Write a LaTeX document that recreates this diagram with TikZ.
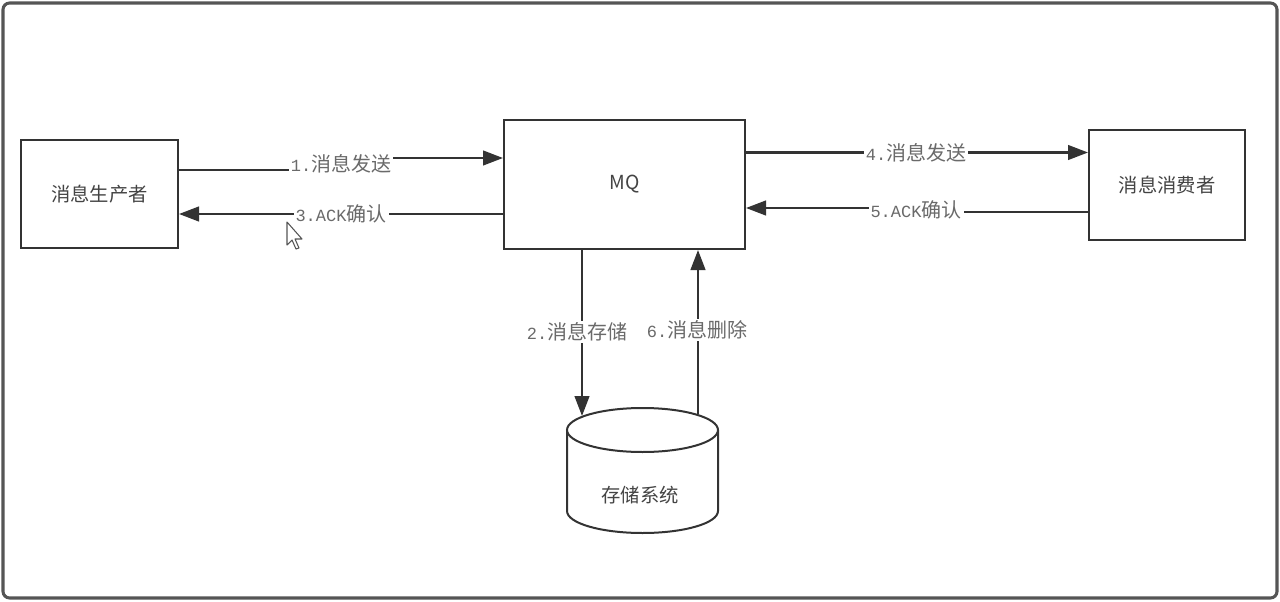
\documentclass[tikz,border=0pt]{standalone}
\usepackage{fontspec}
\setmainfont{Noto Sans CJK SC}
\newfontfamily\lmono[Scale=0.85]{Liberation Mono}
\usetikzlibrary{arrows.meta}
\definecolor{lnc}{HTML}{333333}
\definecolor{txc}{HTML}{444444}
\definecolor{lbc}{HTML}{6A6A6A}
\definecolor{frc}{HTML}{555555}
\tikzset{
  box/.style={draw=lnc, line width=1.5pt, fill=white, text=txc, font=\fontsize{14.5}{17}\selectfont, inner sep=0pt},
  conn/.style={draw=lnc, line width=1.7pt},
  arr/.style={conn, -{Triangle[length=15pt,width=11pt]}},
  lbl/.style={fill=white, text=lbc, font=\fontsize{15}{17}\selectfont, inner sep=1.5pt}
}
\begin{document}
\begin{tikzpicture}[x=0.75pt,y=-0.75pt]
\useasboundingbox (0,0) rectangle (1280,602);
\draw[frc, line width=2.3pt, rounded corners=5pt] (3,3) rectangle (1277,598);

% helper levels
\coordinate (y170) at (0,170);
\coordinate (y158) at (0,158);
\coordinate (y214) at (0,214);
\coordinate (y152) at (0,152.5);
\coordinate (y212) at (0,212);
\coordinate (y208) at (0,208);
\coordinate (x582) at (582,0);
\coordinate (x698) at (698,0);

% boxes
\node[box, minimum width=117.75pt, minimum height=81pt] (prod) at (99.5,194) {消息生产者};
\node[box, minimum width=180.75pt, minimum height=96.75pt] (mq) at (624.5,184.5) {MQ};
\node[box, minimum width=117pt, minimum height=82.5pt] (cons) at (1167,185) {消息消费者};

% storage cylinder
\draw[lnc, line width=1.5pt, fill=white] (567,430) -- (567,511)
  arc[start angle=180, end angle=360, x radius=56.625pt, y radius=16.5pt] -- (718,430);
\draw[lnc, line width=1.5pt, fill=white] (642.5,430) ellipse[x radius=56.625pt, y radius=16.5pt];
\node[text=txc, font=\fontsize{14.5}{17}\selectfont] (store) at (640,495) {存储系统};
\coordinate (st2) at (582,416);
\coordinate (st6) at (698,414);

% connectors
\draw[arr] (prod.east |- y170) -- (341,170) -- node[lbl] {{\lmono 1.}消息发送} (341,158) -- (mq.west |- y158);
\draw[arr] (mq.west |- y214) -- (prod.east |- y214);
\path (341,214) node[lbl] {{\lmono 3.ACK}确认};
\draw[arr] (mq.east |- y152) -- (cons.west |- y152);
\path (916,152.5) node[lbl] {{\lmono 4.}消息发送};
\draw[arr] (cons.west |- y212) -- (916,212) -- node[lbl] {{\lmono 5.ACK}确认} (916,208) -- (mq.east |- y208);
\draw[arr] (mq.south -| x582) -- (st2);
\path (577,332) node[lbl] {{\lmono 2.}消息存储};
\draw[arr] (st6) -- (mq.south -| x698);
\path (697,330) node[lbl] {{\lmono 6.}消息删除};

% mouse pointer
\draw[frc, line width=0.8pt, fill=white, line join=round]
  (287,222) -- (287,245) -- (292,240) -- (296,249) -- (299,248) -- (295,239) -- (302,239) -- cycle;
\end{tikzpicture}
\end{document}
